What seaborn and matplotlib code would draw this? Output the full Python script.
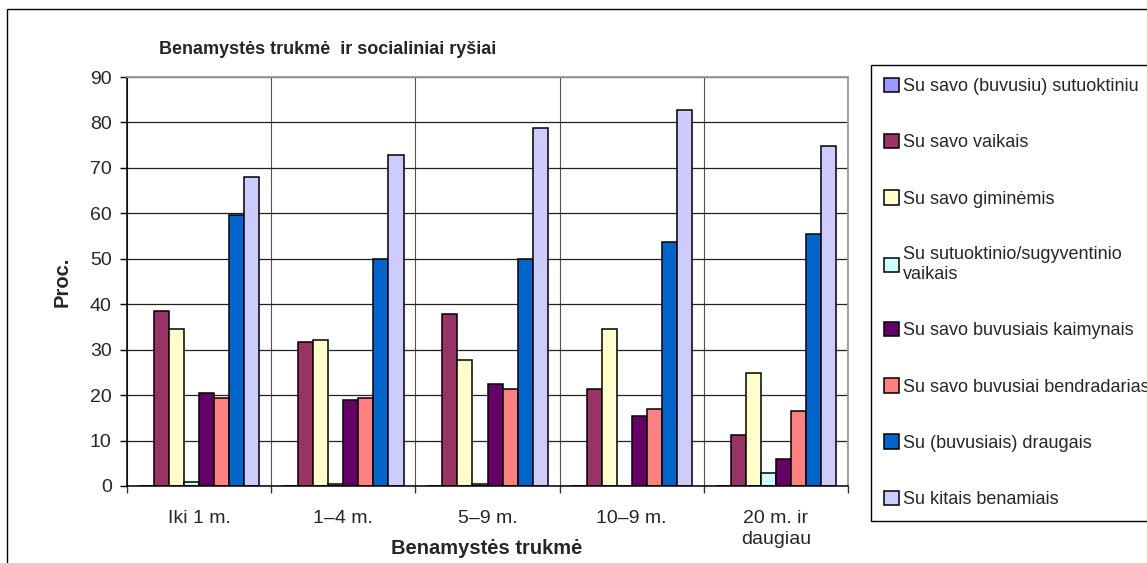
import pandas as pd
import numpy as np
import matplotlib.pyplot as plt
from matplotlib.patches import Patch, Rectangle
import seaborn as sns

# --- data ---
groups = ['Iki 1 m.', '1–4 m.', '5–9 m.', '10–9 m.', '20 m. ir\ndaugiau']
series = ['Su savo (buvusiu) sutuoktiniu', 'Su savo vaikais', 'Su savo giminėmis',
          'Su sutuoktinio/sugyventinio\nvaikais', 'Su savo buvusiais kaimynais',
          'Su savo buvusiai bendradarias', 'Su (buvusiais) draugais', 'Su kitais benamiais']
sutuoktiniu = [0, 0, 0, 0, 0]
vaikais = [38.5, 31.6, 37.9, 21.3, 11.2]
giminemis = [34.5, 32.2, 27.8, 34.6, 24.8]
sugyventinio_vaikais = [0.9, 0.4, 0.5, 0, 2.9]
kaimynais = [20.4, 19.0, 22.4, 15.5, 5.9]
bendradarbiais = [19.3, 19.4, 21.3, 17.0, 16.6]
draugais = [59.7, 50.0, 50.0, 53.6, 55.5]
benamiais = [68.1, 72.9, 78.8, 82.7, 74.9]
colors = ['#9999FF', '#993366', '#FFFFCC', '#CCFFFF', '#660066', '#FF8080', '#0066CC', '#CCCCFF']

values = [sutuoktiniu, vaikais, giminemis, sugyventinio_vaikais,
          kaimynais, bendradarbiais, draugais, benamiais]
rows = []
for s, vals in zip(series, values):
    for g, v in zip(groups, vals):
        rows.append({'Trukme': g, 'Rysys': s, 'Proc': v})
df = pd.DataFrame(rows)

sns.set_theme(style="white")
plt.rcParams['font.family'] = ['Liberation Sans', 'DejaVu Sans']

W, H = 1147, 563
fig = plt.figure(figsize=(W / 100, H / 100), dpi=100)
ax = fig.add_axes([127 / W, 1 - 486 / H, (848 - 127) / W, (486 - 77) / H])

sns.barplot(data=df, x='Trukme', y='Proc', hue='Rysys', hue_order=series,
            palette=colors, width=0.835, gap=0, ax=ax, legend=False,
            edgecolor='black', linewidth=1.1, saturation=1, errorbar=None)

ax.set_ylim(0, 90)
ax.set_xlim(-0.5, len(groups) - 0.5)
ax.set_yticks(np.arange(0, 91, 10))
ax.tick_params(axis='y', which='major', length=5, width=1, color='black',
               labelsize=14, pad=6, left=True, direction='out')
ax.set_xticks(np.arange(len(groups)))
ax.set_xticklabels(groups, fontsize=14, linespacing=1.3)
ax.tick_params(axis='x', which='major', length=0, pad=17)
ax.set_xticks(np.arange(len(groups) + 1) - 0.5, minor=True)
ax.tick_params(axis='x', which='minor', length=5, width=1, color='#333333', bottom=True)

ax.grid(axis='y', which='major', color='#222222', linewidth=0.9)
ax.grid(axis='x', which='minor', color='#555555', linewidth=0.8)
ax.set_axisbelow(True)

for side in ['left', 'bottom']:
    ax.spines[side].set_color('black')
    ax.spines[side].set_linewidth(1.1)
for side in ['top', 'right']:
    ax.spines[side].set_color('#999999')
    ax.spines[side].set_linewidth(1.3)

ax.set_xlabel('')
ax.set_ylabel('')
fig.text(62 / W, 1 - 282 / H, 'Proc.', rotation=90, fontsize=14.5, fontweight='bold',
         ha='center', va='center')
fig.text(487 / W, 1 - 549 / H, 'Benamystės trukmė', fontsize=14.5, fontweight='bold',
         ha='center', va='center')
fig.text(328 / W, 1 - 50 / H, 'Benamystės trukmė  ir socialiniai ryšiai', fontsize=13,
         fontweight='bold', ha='center', va='center')

handles = [Patch(facecolor=c, edgecolor='black', linewidth=1.1) for c in colors]
fig.legend(handles, series, loc='upper left', bbox_to_anchor=(871 / W, 1 - 65 / H, 0.3, 0),
           bbox_transform=fig.transFigure, mode='expand', fontsize=13, frameon=True,
           fancybox=False, edgecolor='black', framealpha=1, handlelength=0.85,
           handleheight=0.85, handletextpad=0.2, labelspacing=2.15, borderpad=0.7,
           borderaxespad=0)
fig.legends[0].get_frame().set_linewidth(1.0)

# outer chart border
fig.add_artist(Rectangle((7 / W, -0.1), 1.2, 1.1 - 9 / H, transform=fig.transFigure,
                         fill=False, edgecolor='black', linewidth=1.0, clip_on=False))

fig.savefig('out.png', dpi=100)
